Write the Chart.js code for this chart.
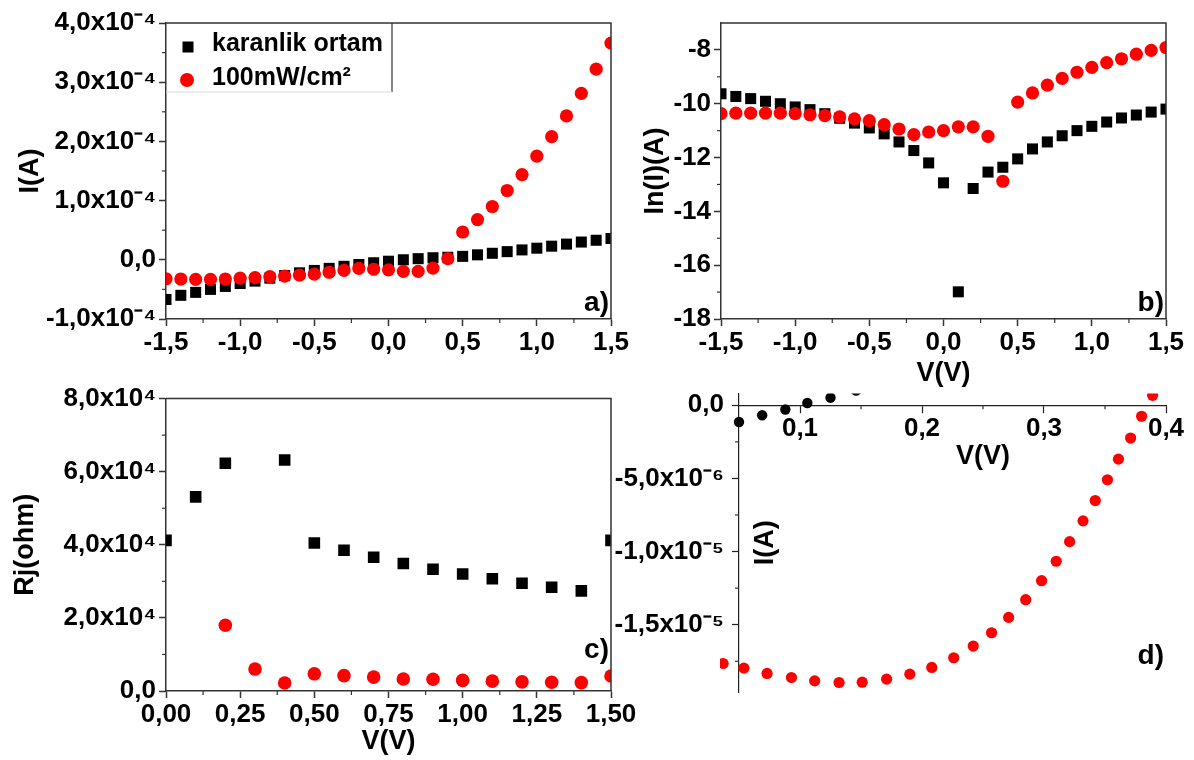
<!DOCTYPE html>
<html><head><meta charset="utf-8">
<script src="https://cdn.jsdelivr.net/npm/chart.js@4.4.1/dist/chart.umd.min.js"></script>
<style>
html,body{margin:0;padding:0;background:#fff;width:1194px;height:760px;overflow:hidden;position:relative;}
canvas{position:absolute;}
</style></head><body>
<canvas id="ca" width="640" height="380" style="left:0;top:0"></canvas>
<canvas id="cb" width="574" height="390" style="left:620px;top:0"></canvas>
<canvas id="cc" width="640" height="380" style="left:0;top:380px"></canvas>
<canvas id="cd" width="594" height="390" style="left:600px;top:370px"></canvas>
<script>
// ---------- DATA ----------
const seriesNames = ['karanlik ortam', '100mW/cm\u00B2'];

// Panels a) and b): voltage sweep
const voltAB = [-1.5,-1.4,-1.3,-1.2,-1.1,-1.0,-0.9,-0.8,-0.7,-0.6,-0.5,-0.4,-0.3,-0.2,-0.1,0.0,
                0.1,0.2,0.3,0.4,0.5,0.6,0.7,0.8,0.9,1.0,1.1,1.2,1.3,1.4,1.5];
// a) I(A)
const darkCurrentA = [-6.7e-5,-6.0e-5,-5.5e-5,-5.0e-5,-4.5e-5,-4.0e-5,-3.6e-5,-3.1e-5,-2.65e-5,-2.2e-5,-1.8e-5,
                      -1.45e-5,-1.1e-5,-8.0e-6,-5.0e-6,-2.4e-6,4e-8,1.9e-6,3.5e-6,4.3e-6,5.8e-6,8.4e-6,1.1e-5,
                      1.38e-5,1.67e-5,1.96e-5,2.3e-5,2.65e-5,3.0e-5,3.3e-5,3.6e-5];
const lightCurrentA = [-3.2e-5,-3.25e-5,-3.3e-5,-3.3e-5,-3.25e-5,-3.1e-5,-3.0e-5,-2.85e-5,-2.75e-5,-2.6e-5,-2.42e-5,
                       -2.1e-5,-1.8e-5,-1.45e-5,-1.6e-5,-1.7e-5,-1.95e-5,-1.95e-5,-1.4e-5,2.0e-6,4.7e-5,6.8e-5,
                       9.0e-5,1.17e-4,1.44e-4,1.75e-4,2.08e-4,2.43e-4,2.81e-4,3.22e-4,3.66e-4];
// b) ln(I)
const darkLnB = [-9.63,-9.73,-9.81,-9.91,-10.0,-10.12,-10.22,-10.37,-10.54,-10.72,-10.90,-11.12,-11.42,-11.74,
                 -12.20,-12.94,-16.99,-13.15,-12.54,-12.36,-12.05,-11.68,-11.42,-11.19,-11.0,-10.84,-10.68,
                 -10.53,-10.42,-10.31,-10.20];
const lightLnB = [-10.37,-10.35,-10.35,-10.35,-10.35,-10.37,-10.41,-10.44,-10.49,-10.56,-10.63,-10.78,-10.94,
                  -11.15,-11.05,-11.0,-10.86,-10.86,-11.21,-12.88,-9.94,-9.6,-9.31,-9.06,-8.83,-8.65,-8.47,
                  -8.33,-8.16,-8.02,-7.91];
// c) Rj(ohm)
const darkVoltC = [0.0,0.1,0.2,0.4,0.5,0.6,0.7,0.8,0.9,1.0,1.1,1.2,1.3,1.4,1.5];
const darkRjC = [4.12e4,5.31e4,6.23e4,6.32e4,4.05e4,3.85e4,3.66e4,3.49e4,3.33e4,3.20e4,3.07e4,2.95e4,2.84e4,2.74e4,4.12e4];
const lightVoltC = [0.2,0.3,0.4,0.5,0.6,0.7,0.8,0.9,1.0,1.1,1.2,1.3,1.4,1.5];
const lightRjC = [1.80e4,0.60e4,0.22e4,0.47e4,0.42e4,0.38e4,0.33e4,0.32e4,0.29e4,0.27e4,0.25e4,0.24e4,0.23e4,0.41e4];
// d) I(A) zoom near origin
const darkVoltD = [0.050,0.069,0.088,0.106,0.125,0.146];
const darkCurrentD = [-1.14e-6,-0.68e-6,-0.29e-6,0.16e-6,0.52e-6,1.0e-6];
const lightVoltD = [0.037,0.054,0.073,0.093,0.112,0.132,0.151,0.171,0.190,0.208,0.226,0.242,0.257,0.271,
                    0.285,0.298,0.310,0.321,0.332,0.342,0.352,0.361,0.371,0.380,0.389];
const lightCurrentD = [-17.65e-6,-17.97e-6,-18.33e-6,-18.61e-6,-18.84e-6,-18.95e-6,-18.93e-6,-18.72e-6,-18.38e-6,
                       -17.92e-6,-17.26e-6,-16.46e-6,-15.55e-6,-14.50e-6,-13.29e-6,-11.99e-6,-10.66e-6,-9.32e-6,
                       -7.90e-6,-6.51e-6,-5.09e-6,-3.68e-6,-2.24e-6,-0.75e-6,0.68e-6];

// ---------- TICKS ----------
const xTicksAB = [-1.5,-1.0,-0.5,0.0,0.5,1.0,1.5];
const xLabelsAB = ['-1,5','-1,0','-0,5','0,0','0,5','1,0','1,5'];
const xMinorAB = [-1.25,-0.75,-0.25,0.25,0.75,1.25];
const yTicksA = [-1e-4,0,1e-4,2e-4,3e-4,4e-4];
const yLabelsA = ['-1,0x10\u207B\u2074','0,0','1,0x10\u207B\u2074','2,0x10\u207B\u2074','3,0x10\u207B\u2074','4,0x10\u207B\u2074'];
const yMinorA = [-0.5e-4,0.5e-4,1.5e-4,2.5e-4,3.5e-4];
const yTicksB = [-18,-16,-14,-12,-10,-8];
const yLabelsB = ['-18','-16','-14','-12','-10','-8'];
const yMinorB = [-17,-15,-13,-11,-9];
const xTicksC = [0,0.25,0.5,0.75,1.0,1.25,1.5];
const xLabelsC = ['0,00','0,25','0,50','0,75','1,00','1,25','1,50'];
const xMinorC = [0.125,0.375,0.625,0.875,1.125,1.375];
const yTicksC = [0,2e4,4e4,6e4,8e4];
const yLabelsC = ['0,0','2,0x10\u2074','4,0x10\u2074','6,0x10\u2074','8,0x10\u2074'];
const yMinorC = [1e4,3e4,5e4,7e4];
const xTicksD = [0.1,0.2,0.3,0.4];
const xLabelsD = ['0,1','0,2','0,3','0,4'];
const xMinorD = [0.15,0.25,0.35];
const yTicksD = [-1.5e-5,-1.0e-5,-5e-6,0];
const yLabelsD = ['-1,5x10\u207B\u2075','-1,0x10\u207B\u2075','-5,0x10\u207B\u2076','0,0'];
const yMinorD = [-17.5e-6,-12.5e-6,-7.5e-6,-2.5e-6];

// ---------- STYLE ----------
Chart.defaults.font.family = "'Liberation Sans', Arial, sans-serif";
Chart.defaults.font.weight = 'bold';
Chart.defaults.color = '#000';
const TICK_FONT = {size: 26, weight: 'bold'};
const TITLE_FONT = {size: 27, weight: 'bold'};
const AX = '#333';
const RED = '#ff0000';

const pts = (xs, ys) => xs.map((x, i) => ({x: x, y: ys[i]}));

function linAxis(min, max, ticks, labels, extra) {
  const o = {
    type: 'linear', min: min, max: max,
    afterBuildTicks: s => { s.ticks = ticks.map(v => ({value: v})); },
    ticks: {font: TICK_FONT, autoSkip: false, maxRotation: 0, minRotation: 0,
            callback: (v, i) => labels[i]},
    grid: {drawOnChartArea: false, tickLength: 7, tickWidth: 1.5, tickColor: AX},
    border: {color: AX, width: 1.5}
  };
  return Object.assign(o, extra || {});
}

function decor(opts) {
  return {
    id: 'decor',
    afterDraw(chart) {
      const {ctx, chartArea: ca, scales} = chart;
      const xs = scales.x, ys = scales.y;
      ctx.save();
      ctx.strokeStyle = AX;
      ctx.lineWidth = opts.lw || 1.5;
      if (opts.frame) {
        ctx.beginPath();
        ctx.moveTo(ca.left, ca.top); ctx.lineTo(ca.right, ca.top); ctx.lineTo(ca.right, ca.bottom);
        ctx.stroke();
      }
      // minor ticks
      ctx.lineWidth = 1.2;
      const xBase = opts.xBase !== undefined ? ys.getPixelForValue(opts.xBase) : ca.bottom;
      (opts.xMinor || []).forEach(v => {
        const px = xs.getPixelForValue(v);
        ctx.beginPath(); ctx.moveTo(px, xBase); ctx.lineTo(px, xBase + 4); ctx.stroke();
      });
      (opts.yMinor || []).forEach(v => {
        const py = ys.getPixelForValue(v);
        ctx.beginPath(); ctx.moveTo(ca.left, py); ctx.lineTo(ca.left - 4, py); ctx.stroke();
      });
      ctx.fillStyle = '#000';
      // free-floating x title (panel d)
      if (opts.xTitle) {
        ctx.font = "bold 27px 'Liberation Sans', Arial, sans-serif";
        ctx.textAlign = 'center';
        ctx.textBaseline = 'middle';
        ctx.fillText(opts.xTitle, xs.getPixelForValue(opts.xTitleAt), xBase + opts.xTitleDy);
      }
      // panel label
      if (opts.tag) {
        ctx.font = "bold 28px 'Liberation Sans', Arial, sans-serif";
        ctx.textAlign = 'right';
        ctx.textBaseline = 'middle';
        ctx.fillText(opts.tag, ca.right - 2, ca.bottom - opts.tagDy);
      }
      if (opts.legend) {
        const L = ca.left, T = ca.top;
        ctx.strokeStyle = AX; ctx.lineWidth = 1.2;
        ctx.beginPath(); ctx.moveTo(L + 226, T); ctx.lineTo(L + 226, T + 69); ctx.stroke();
        ctx.strokeStyle = '#d8d8d8';
        ctx.beginPath(); ctx.moveTo(L, T + 69); ctx.lineTo(L + 226, T + 69); ctx.stroke();
        const ds = chart.data.datasets;
        ctx.fillStyle = '#000';
        ctx.fillRect(L + 16.5, T + 18.5, 11, 11);
        ctx.fillStyle = RED;
        ctx.beginPath(); ctx.arc(L + 21, T + 57, 7, 0, Math.PI * 2); ctx.fill();
        ctx.fillStyle = '#000';
        ctx.font = "bold 25px 'Liberation Sans', Arial, sans-serif";
        ctx.textAlign = 'left'; ctx.textBaseline = 'middle';
        ctx.fillText(ds[1].label, L + 46, T + 21);
        ctx.fillText(ds[0].label, L + 46, T + 55);
      }
      ctx.restore();
    }
  };
}

const common = {
  responsive: false, animation: false, events: [],
  plugins: {legend: {display: false}, tooltip: {enabled: false}},
};

// ---------- a) ----------
new Chart(document.getElementById('ca'), {
  type: 'scatter',
  data: {datasets: [
    {label: seriesNames[1], data: pts(voltAB, lightCurrentA), pointStyle: 'circle', pointRadius: 6.6,
     backgroundColor: RED, borderWidth: 0, clip: 0},
    {label: seriesNames[0], data: pts(voltAB, darkCurrentA), pointStyle: 'rect', pointRadius: 7.8,
     backgroundColor: '#000', borderWidth: 0, clip: 0}
  ]},
  options: Object.assign({}, common, {
    layout: {padding: {top: 23, right: 29, left: 0, bottom: 0}},
    scales: {
      x: linAxis(-1.5, 1.5, xTicksAB, xLabelsAB, {afterFit: s => { s.height = 61; }}),
      y: linAxis(-1e-4, 4e-4, yTicksA, yLabelsA, {
        afterFit: s => { s.width = 166; },
        title: {display: true, text: 'I(A)', font: TITLE_FONT, padding: {top: 14, bottom: 0}}
      })
    }
  }),
  plugins: [decor({frame: true, xMinor: xMinorAB, yMinor: yMinorA, tag: 'a)', tagDy: 16, legend: true})]
});

// ---------- b) ----------
new Chart(document.getElementById('cb'), {
  type: 'scatter',
  data: {datasets: [
    {label: seriesNames[1], data: pts(voltAB, lightLnB), pointStyle: 'circle', pointRadius: 6.6,
     backgroundColor: RED, borderWidth: 0, clip: 0},
    {label: seriesNames[0], data: pts(voltAB, darkLnB), pointStyle: 'rect', pointRadius: 7.8,
     backgroundColor: '#000', borderWidth: 0, clip: 0}
  ]},
  options: Object.assign({}, common, {
    layout: {padding: {top: 23, right: 28, left: 0, bottom: 0}},
    scales: {
      x: linAxis(-1.5, 1.5, xTicksAB, xLabelsAB, {
        afterFit: s => { s.height = 71; },
        title: {display: true, text: 'V(V)', font: TITLE_FONT, padding: {top: 0, bottom: 0}}
      }),
      y: linAxis(-18, -7, yTicksB, yLabelsB, {
        afterFit: s => { s.width = 101; },
        title: {display: true, text: 'In(I)(A)', font: TITLE_FONT, padding: {top: 19, bottom: 0}}
      })
    }
  }),
  plugins: [decor({frame: true, xMinor: xMinorAB, yMinor: yMinorB, tag: 'b)', tagDy: 16})]
});
// tick label padding tweaks
Chart.getChart('cb').options.scales.y.ticks.padding = 3;
Chart.getChart('cb').options.scales.x.ticks.padding = 1;
Chart.getChart('cb').update();
Chart.getChart('ca').options.scales.y.ticks.padding = 3;
Chart.getChart('ca').options.scales.x.ticks.padding = 1;
Chart.getChart('ca').update();

// ---------- c) ----------
new Chart(document.getElementById('cc'), {
  type: 'scatter',
  data: {datasets: [
    {label: seriesNames[1], data: pts(lightVoltC, lightRjC), pointStyle: 'circle', pointRadius: 6.8,
     backgroundColor: RED, borderWidth: 0, clip: 0},
    {label: seriesNames[0], data: pts(darkVoltC, darkRjC), pointStyle: 'rect', pointRadius: 8.2,
     backgroundColor: '#000', borderWidth: 0, clip: 0}
  ]},
  options: Object.assign({}, common, {
    layout: {padding: {top: 15, right: 29, left: 0, bottom: 0}},
    scales: {
      x: linAxis(0, 1.5, xTicksC, xLabelsC, {
        afterFit: s => { s.height = 69; },
        title: {display: true, text: 'V(V)', font: TITLE_FONT, padding: {top: 0, bottom: 2}}
      }),
      y: linAxis(0, 8e4, yTicksC, yLabelsC, {
        afterFit: s => { s.width = 166; },
        title: {display: true, text: 'Rj(ohm)', font: TITLE_FONT, padding: {top: 9, bottom: 0}}
      })
    }
  }),
  plugins: [decor({frame: true, xMinor: xMinorC, yMinor: yMinorC, tag: 'c)', tagDy: 41})]
});
Chart.getChart('cc').options.scales.y.ticks.padding = 3;
Chart.getChart('cc').options.scales.x.ticks.padding = 1;
Chart.getChart('cc').update();

// ---------- d) ----------
new Chart(document.getElementById('cd'), {
  type: 'scatter',
  data: {datasets: [
    {label: seriesNames[1], data: pts(lightVoltD, lightCurrentD), pointStyle: 'circle', pointRadius: 5.6,
     pointHoverRadius: 22,
     backgroundColor: RED, borderWidth: 0, clip: {left: 19, top: 0, right: 20, bottom: 20}},
    {label: seriesNames[0], data: pts(darkVoltD, darkCurrentD), pointStyle: 'circle', pointRadius: 5.2,
     pointHoverRadius: 22,
     backgroundColor: '#000', borderWidth: 0, clip: {left: 19, top: 0, right: 20, bottom: 20}}
  ]},
  options: Object.assign({}, common, {
    layout: {padding: {top: 23, right: 28, left: 0, bottom: 68}},
    scales: {
      x: linAxis(0.05, 0.4, xTicksD, xLabelsD, {
        position: {y: 0},
        border: {color: '#222', width: 1.2},
        grid: {drawOnChartArea: false, tickLength: 7, tickWidth: 1.2, tickColor: '#222'}
      }),
      y: linAxis(-19.6e-6, 0.8e-6, yTicksD, yLabelsD, {
        afterFit: s => { s.width = 139; },
        title: {display: true, text: 'I(A)', font: TITLE_FONT, padding: {top: 149, bottom: 0}},
        border: {color: '#222', width: 1.2},
        grid: {drawOnChartArea: false, tickLength: 7, tickWidth: 1.2, tickColor: '#222'}
      })
    }
  }),
  plugins: [decor({xBase: 0, xMinor: xMinorD, yMinor: yMinorD, tag: 'd)', tagDy: 36, lw: 1.2,
                   xTitle: 'V(V)', xTitleAt: 0.25, xTitleDy: 51})]
});
Chart.getChart('cd').options.scales.y.ticks.padding = 8;
Chart.getChart('cd').options.scales.x.ticks.padding = 1;
Chart.getChart('cd').update();
</script>
</body></html>
